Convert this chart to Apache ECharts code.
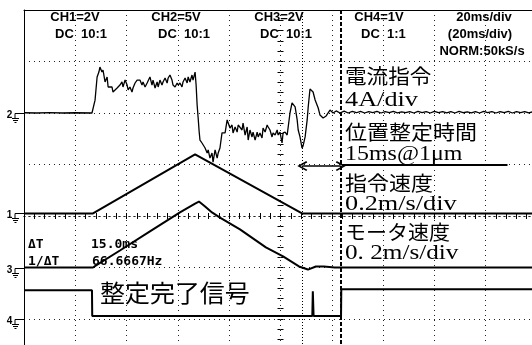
<!DOCTYPE html>
<html><head><meta charset="utf-8">
<script src="https://cdn.jsdelivr.net/npm/echarts/dist/echarts.min.js"></script>
<style>html,body{margin:0;padding:0;background:#fff}#c{width:532px;height:345px}</style>
</head><body><div id="c"></div>
<script>
// ---- axes: 20 ms/div x 10 div, 8 vertical divisions ----
const timeMin = 0, timeMax = 200, timeDiv = 20;
const divMin = -4, divMax = 4;

// ---- channel scales (units per div) and ground levels (div) ----
const ch2Scale = 4,   ch2Ground = 2;     // current command, A
const ch1Scale = 0.2, ch1Ground = 0.05;  // command speed, m/s
const ch3Scale = 0.2, ch3Ground = -1;    // motor speed, m/s
const ch4Scale = 1,   ch4Ground = -2;    // settling-done signal, V

// CH2 current command [ms, A]
const currentPoints = [
 [0,0.02],[5,0],[10,0.03],[15,0],[20,0.02],[26.5,0],
 [26.9,0.08],[27.7,1.0],[28.5,2.8],[29.2,3.18],[29.6,3.57],[30.4,3.18],[30.8,3.34],[31.6,2.41],[32.4,2.80],[32.8,2.02],
 [33.5,1.94],[34.3,2.02],[34.7,1.63],[35.5,1.79],[36.3,1.94],[36.7,1.79],[37.4,2.17],[38.2,2.41],[38.6,2.02],[39.4,2.56],
 [40.2,2.17],[40.6,1.79],[41.3,2.02],[42.1,1.63],[42.5,1.94],[43.3,2.33],[44.1,2.56],[45.2,2.56],[46.0,2.17],[46.4,2.41],
 [47.2,2.02],[48.0,2.33],[48.4,2.41],[49.1,2.80],[49.9,2.17],[50.3,2.56],[51.1,1.94],[51.9,2.41],[52.3,2.02],[53.0,2.56],
 [53.8,2.17],[54.2,2.41],[55.0,2.72],[55.8,2.33],[56.2,2.72],[56.9,2.95],[57.7,2.56],[58.1,2.17],[58.9,2.02],[59.7,2.33],
 [60.1,2.17],[60.8,2.33],[61.6,2.02],[62.0,2.41],[62.8,2.72],[63.6,2.33],[64.0,2.80],[64.7,2.41],[65.5,2.95],[65.9,2.56],
 [66.7,3.18],[67.1,2.17],[67.5,0.62],[67.9,-0.39],[68.3,-1.48],[68.6,-2.10],[69.4,-2.33],[69.8,-2.25],[70.6,-2.72],[71.4,-3.11],
 [71.8,-2.87],[72.5,-3.50],[73.3,-3.11],[73.7,-3.81],[74.5,-2.87],[75.3,-3.50],[75.7,-3.11],[76.4,-2.72],[77.2,-1.55],[77.6,-1.48],
 [78.4,-1.55],[79.2,-0.54],[79.6,-0.39],[80.3,-1.17],[81.1,-0.93],[81.5,-1.55],[82.3,-1.09],[83.1,-1.48],[83.5,-0.93],[84.2,-0.93],
 [85.0,-1.32],[85.4,-0.78],[86.2,-1.71],[87.0,-1.09],[87.4,-2.10],[88.1,-1.32],[88.9,-1.86],[89.3,-1.48],[90.1,-2.10],[90.9,-1.48],
 [91.3,-1.86],[92.0,-1.55],[92.8,-1.94],[93.2,-1.17],[94.0,-1.48],[94.8,-0.93],[95.2,-1.09],[95.9,-1.32],[96.7,-1.86],[97.1,-1.55],
 [97.9,-1.71],[98.7,-1.32],[99.1,-1.71],[99.8,-1.48],[100.6,-2.33],[101.0,-1.55],[101.8,-1.48],[102.6,-1.71],[103.0,-1.09],[103.7,0],
 [104.5,0.78],[104.9,0.85],[105.7,0.47],[106.5,-0.54],[106.9,-1.32],[107.6,-1.86],[108.4,-2.72],[108.8,-2.56],[109.6,-1.86],[110.4,-0.54],
 [110.8,0.47],[111.5,1.86],[112.7,1.63],[113.5,1.01],[114.7,0.39],[115.4,-0.16],[116.6,-0.39],[117.8,-0.23],[119.3,0.23],[120.5,0],
 [121.7,0.16],[123.2,0],
 [124.8,0.14],[126.4,0],[128.0,0.12],[129.6,0.02],[131.2,0.13],[132.8,0],[134.4,0.11],[136.0,0.03],[137.6,0.12],[139.2,0],
 [140.8,0.10],[142.4,0.02],[144.0,0.12],[145.6,0.01],[147.2,0.09],[148.8,0.03],[150.4,0.11],[152.0,0],[153.6,0.12],[155.2,0.02],
 [156.8,0.10],[158.4,0],[160.0,0.12],[161.6,0.03],[163.2,0.11],[164.8,0.01],[166.4,0.10],[168.0,0],[169.6,0.12],[171.2,0.02],
 [172.8,0.09],[174.4,0.01],[176.0,0.11],[177.6,0],[179.2,0.12],[180.8,0.03],[182.4,0.10],[184.0,0],[185.6,0.11],[187.2,0.02],
 [188.8,0.12],[190.4,0],[192.0,0.10],[193.6,0.03],[195.2,0.11],[196.8,0.01],[198.4,0.10],[200,0.02]
];

// CH1 command speed [ms, m/s]
const cmdSpeedPoints = [[0,0],[26.9,0],[66.7,0.229],[108.4,0],[200,0]];

// CH3 motor speed [ms, m/s]
const motorSpeedPoints = [
 [0,0],[26.9,0],[28.1,0.008],[37.4,0.066],[49.1,0.140],[60.8,0.214],[66.7,0.248],[68.2,0.256],
 [70.6,0.237],[73.3,0.214],[76.4,0.194],[84.2,0.148],[94.3,0.078],[101.0,0.043],[107.2,0.004],
 [110.7,-0.008],[113.8,0.004],[116.9,0.004],[121.2,0],[200,0]
];

// CH4 settling-done signal [ms, V]
const settlePoints = [
 [0,0.56],[26.5,0.56],[26.6,0.06],[112.4,0.06],[112.6,0.54],[112.9,0.06],[123.6,0.06],[123.7,0.58],[200,0.58]
];

// cursors (ms)
const cursorA = 108.5, cursorB = 123.5;

const toDiv = (pts, ground, scale) => pts.map(p => [p[0], ground + p[1] / scale]);

const chart = echarts.init(document.getElementById('c'), null, {renderer: 'canvas'});

const dotted = {color: '#222', type: [1, 4], width: 1};
const blank = {show: false};
const tickStyle = {color: '#000', width: 1};

function centerX(inside) {
  return {type: 'value', min: timeMin, max: timeMax, interval: timeDiv, position: 'bottom',
    axisLine: {show: true, onZero: true, lineStyle: dotted},
    axisTick: {show: true, inside: inside, length: 3, lineStyle: tickStyle},
    minorTick: {show: true, splitNumber: 5, length: 3, lineStyle: tickStyle},
    axisLabel: blank, splitLine: blank};
}
function centerY(inside, off) {
  return {type: 'value', min: divMin, max: divMax, interval: 1, position: 'left', offset: off,
    axisLine: {show: false, onZero: false},
    axisTick: {show: true, inside: inside, length: 3, lineStyle: tickStyle},
    minorTick: {show: true, splitNumber: 5, length: 3, lineStyle: tickStyle},
    axisLabel: blank, splitLine: blank};
}

const gridW = 513, gridH = 412;
const chevron = 'path://M5,0 L10,9 L8.6,10 L5,3.2 L1.4,10 L0,9 Z';
const lineSeries = (data, w) => ({type: 'line', data: data, showSymbol: false, symbol: 'none',
  lineStyle: {color: '#000', width: w}, animation: false, silent: true});

const option = {
  animation: false,
  backgroundColor: '#fff',
  grid: {left: 24, top: 10, width: gridW, height: gridH, containLabel: false, outerBoundsMode: 'none'},
  xAxis: [
    {type: 'value', min: timeMin, max: timeMax, interval: timeDiv, position: 'top',
     axisLine: {show: true, onZero: false, lineStyle: {color: '#000', width: 1}},
     axisTick: blank, axisLabel: blank, splitLine: {show: true, lineStyle: dotted}},
    centerX(false), centerX(true)
  ],
  yAxis: [
    {type: 'value', min: divMin, max: divMax, interval: 1, position: 'left',
     axisLine: {show: true, onZero: false, lineStyle: {color: '#000', width: 1}},
     axisTick: blank, axisLabel: blank, splitLine: {show: true, lineStyle: dotted}},
    centerY(false, -gridW / 2), centerY(true, -gridW / 2)
  ],
  series: [
    lineSeries(toDiv(currentPoints, ch2Ground, ch2Scale), 1.3),
    lineSeries(toDiv(cmdSpeedPoints, ch1Ground, ch1Scale), 2),
    lineSeries(toDiv(motorSpeedPoints, ch3Ground, ch3Scale), 2),
    lineSeries(toDiv(settlePoints, ch4Ground, ch4Scale), 2),
    {type: 'line', data: [], silent: true, animation: false,
     markLine: {silent: true, animation: false, symbol: ['none', 'none'], label: {show: false},
       data: [
         {xAxis: cursorA, lineStyle: {color: '#000', type: [1, 2], width: 1}},
         {xAxis: cursorB, lineStyle: {color: '#000', type: [4, 2], width: 2}},
         [{coord: [cursorA, 0.97], symbol: chevron, symbolSize: [10, 10]},
          {coord: [cursorB, 0.97], symbol: chevron, symbolSize: [10, 10], lineStyle: {color: '#000', type: 'solid', width: 1.5}}],
         [{coord: [124, 1.0], symbol: 'none'},
          {coord: [188.5, 1.0], symbol: 'none', lineStyle: {color: '#000', type: 'solid', width: 2}}]
       ]}}
  ]
};
chart.setOption(option);

// ---- texts ----
const hdr = {fontFamily: 'Liberation Sans', fontWeight: 'bold', fontSize: 13, fill: '#000', textVerticalAlign: 'middle'};
const mono = {fontFamily: 'DejaVu Sans Mono', fontWeight: 'bold', fontSize: 13, fill: '#000', textVerticalAlign: 'middle', textAlign: 'left'};
const jp = {fontFamily: '"Noto Sans CJK JP"', fontSize: 20, fill: '#000', textVerticalAlign: 'middle', textAlign: 'left'};
const ser = {fontFamily: '"Liberation Serif"', fontSize: 21, fill: '#000', textVerticalAlign: 'middle', textAlign: 'left'};
const T = (text, x, y, st, align, sx) => ({type: 'text', x: x, y: y, scaleX: sx || 1, silent: true, z: 100,
  style: Object.assign({}, st, {text: text}, align ? {textAlign: align} : {})});

const graphics = [
  T('CH1=2V', 75, 17, hdr, 'center'), T('DC  10:1', 55, 34, hdr, 'left'),
  T('CH2=5V', 176, 17, hdr, 'center'), T('DC  10:1', 158, 34, hdr, 'left'),
  T('CH3=2V', 279, 17, hdr, 'center'), T('DC  10:1', 260, 34, hdr, 'left'),
  T('CH4=1V', 379, 17, hdr, 'center'), T('DC  1:1', 361, 34, hdr, 'left'),
  T('20ms/div', 484, 17, hdr, 'center'), T('(20ms/div)', 480, 34, hdr, 'center'),
  T('NORM:50kS/s', 482, 51, hdr, 'center'),
  T('電流指令', 345, 76, jp, null, 1.08),
  T('4A/div', 345, 100, ser, null, 1.25),
  T('位置整定時間', 345, 132, jp, null, 1.1),
  T('15ms@1μm', 345, 154, ser, null, 1.14),
  T('指令速度', 345, 183, jp, null, 1.1),
  T('0.2m/s/div', 345, 204, ser, null, 1.25),
  T('モータ速度', 345, 232, jp, null, 1.05),
  T('0. 2m/s/div', 345, 253, ser, null, 1.2),
  T('整定完了信号', 100, 293, Object.assign({}, jp, {fontSize: 24}), null, 1.04),
  T('ΔT', 28, 245, mono), T('15.0ms', 91, 245, mono),
  T('1/ΔT', 28, 262, mono), T('66.6667Hz', 92, 262, mono)
];

// ground markers at each channel's reference level
const grounds = [['2', ch2Ground], ['1', ch1Ground], ['3', ch3Ground], ['4', ch4Ground]];
grounds.forEach(([lab, lvl]) => {
  const y = chart.convertToPixel({yAxisIndex: 0}, lvl);
  const s = {stroke: '#000', lineWidth: 1, fill: null};
  graphics.push({type: 'group', x: 0, y: Math.round(y) + 0.5, silent: true, z: 100, children: [
    {type: 'text', x: 9.5, y: 2, style: {text: lab, fontFamily: 'Liberation Sans', fontWeight: 'bold', fontSize: 10, fill: '#000', textAlign: 'center', textVerticalAlign: 'middle'}},
    {type: 'polyline', shape: {points: [[24, 0], [15, 0], [15, 5]]}, style: s},
    {type: 'line', shape: {x1: 12, y1: 5, x2: 19, y2: 5}, style: s},
    {type: 'line', shape: {x1: 13, y1: 7, x2: 18, y2: 7}, style: s},
    {type: 'line', shape: {x1: 14.5, y1: 9, x2: 16.5, y2: 9}, style: s}
  ]});
});

chart.setOption({graphic: graphics});
</script>
</body></html>
